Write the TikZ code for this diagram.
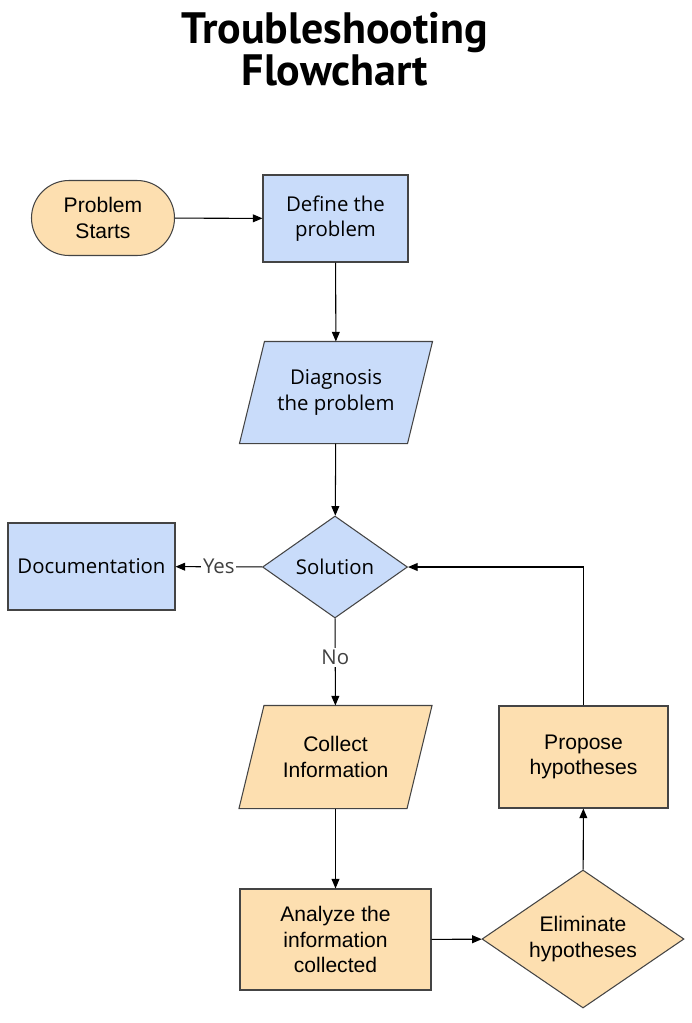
\documentclass[tikz,border=0pt]{standalone}
\usepackage{fontspec}
\setmainfont{Open Sans}
\newfontfamily\titlefont{PT Sans}
\newfontfamily\arialfont{Liberation Sans}
\usetikzlibrary{shapes.geometric, arrows.meta, positioning, backgrounds}
\definecolor{boxblue}{RGB}{201, 220, 250}
\definecolor{boxorange}{RGB}{253, 223, 176}
\definecolor{edgegray}{RGB}{68, 68, 68}
\definecolor{labelgray}{RGB}{64, 64, 64}

\tikzset{
  base/.style={draw=edgegray, line width=0.6pt, align=center, font=\fontsize{11.6}{14.6}\selectfont, text=black, inner sep=0pt},
  blue/.style={base, fill=boxblue},
  orange/.style={base, fill=boxorange, font=\arialfont\fontsize{12}{14.6}\selectfont},
  flowbox/.style={rectangle},
  iobox/.style={rectangle, draw=none, fill=none, minimum width=3.34cm},
  ioline/.style={draw=edgegray, line width=0.6pt},
  choice/.style={diamond, aspect=1.45},
  startbox/.style={rectangle, rounded corners=0.75cm},
  link/.style={line width=0.6pt, -{Triangle[length=5.5pt, width=4.5pt]}},
  linklabel/.style={fill=white, text=labelgray, font=\fontsize{11.6}{14}\selectfont, inner sep=1pt}
}
% slanted outline behind an iobox node
\newcommand{\ioslant}[2]{%
  \draw[ioline, fill=#2] ([xshift=0.25cm]#1.north west) -- ([xshift=0.25cm]#1.north east)
    -- ([xshift=-0.25cm]#1.south east) -- ([xshift=-0.25cm]#1.south west) -- cycle;}

\begin{document}
\begin{tikzpicture}
  \useasboundingbox (0, 0) rectangle (13.82, -20.46);

  % Title
  \node[font=\titlefont\bfseries\fontsize{25}{23.8}\selectfont, align=center] (title) at (6.70, -0.98) {Troubleshooting\\Flowchart};

  % Upper part
  \node[orange, startbox, minimum width=2.86cm, minimum height=1.5cm] (start) at (2.06, -4.36) {Problem\\Starts};
  \node[blue, flowbox, minimum width=2.9cm, minimum height=1.74cm] (define) at (6.71, -4.37) {Define the\\problem};
  \node[blue, iobox, minimum height=2.02cm] (diag) at (6.72, -7.85) {Diagnosis\\the problem};
  \node[blue, choice, minimum width=2.9cm, minimum height=2.04cm] (sol) at (6.70, -11.34) {Solution};
  \node[blue, flowbox, minimum width=3.34cm, minimum height=1.74cm] (doc) at (1.83, -11.33) {Documentation};

  % Lower part
  \node[orange, iobox, minimum height=2.04cm] (collect) at (6.71, -15.14) {Collect\\Information};
  \node[orange, flowbox, minimum width=3.38cm, minimum height=2.04cm] (propose) at (11.67, -15.14) {Propose\\hypotheses};
  \node[orange, flowbox, minimum width=3.82cm, minimum height=2.02cm] (analyze) at (6.71, -18.79) {Analyze the\\information\\collected};
  \node[orange, choice, minimum width=4.04cm, minimum height=2.76cm] (elim) at (11.66, -18.78) {Eliminate\\hypotheses};

  \begin{scope}[on background layer]
    \ioslant{diag}{boxblue}
    \ioslant{collect}{boxorange}
  \end{scope}

  % Connectors
  \draw[link] (start) -- (define);
  \draw[link] (define) -- (diag);
  \draw[link] (diag) -- (sol);
  \draw[link] (sol) -- node[linklabel] {Yes} (doc);
  \draw[link] (sol) -- node[linklabel, pos=0.45] {No} (collect);
  \draw[link] (collect) -- (analyze);
  \draw[link] (analyze) -- (elim);
  \draw[link] (elim) -- (propose);
  \draw[link] (propose.north) |- (sol.east);
\end{tikzpicture}
\end{document}
